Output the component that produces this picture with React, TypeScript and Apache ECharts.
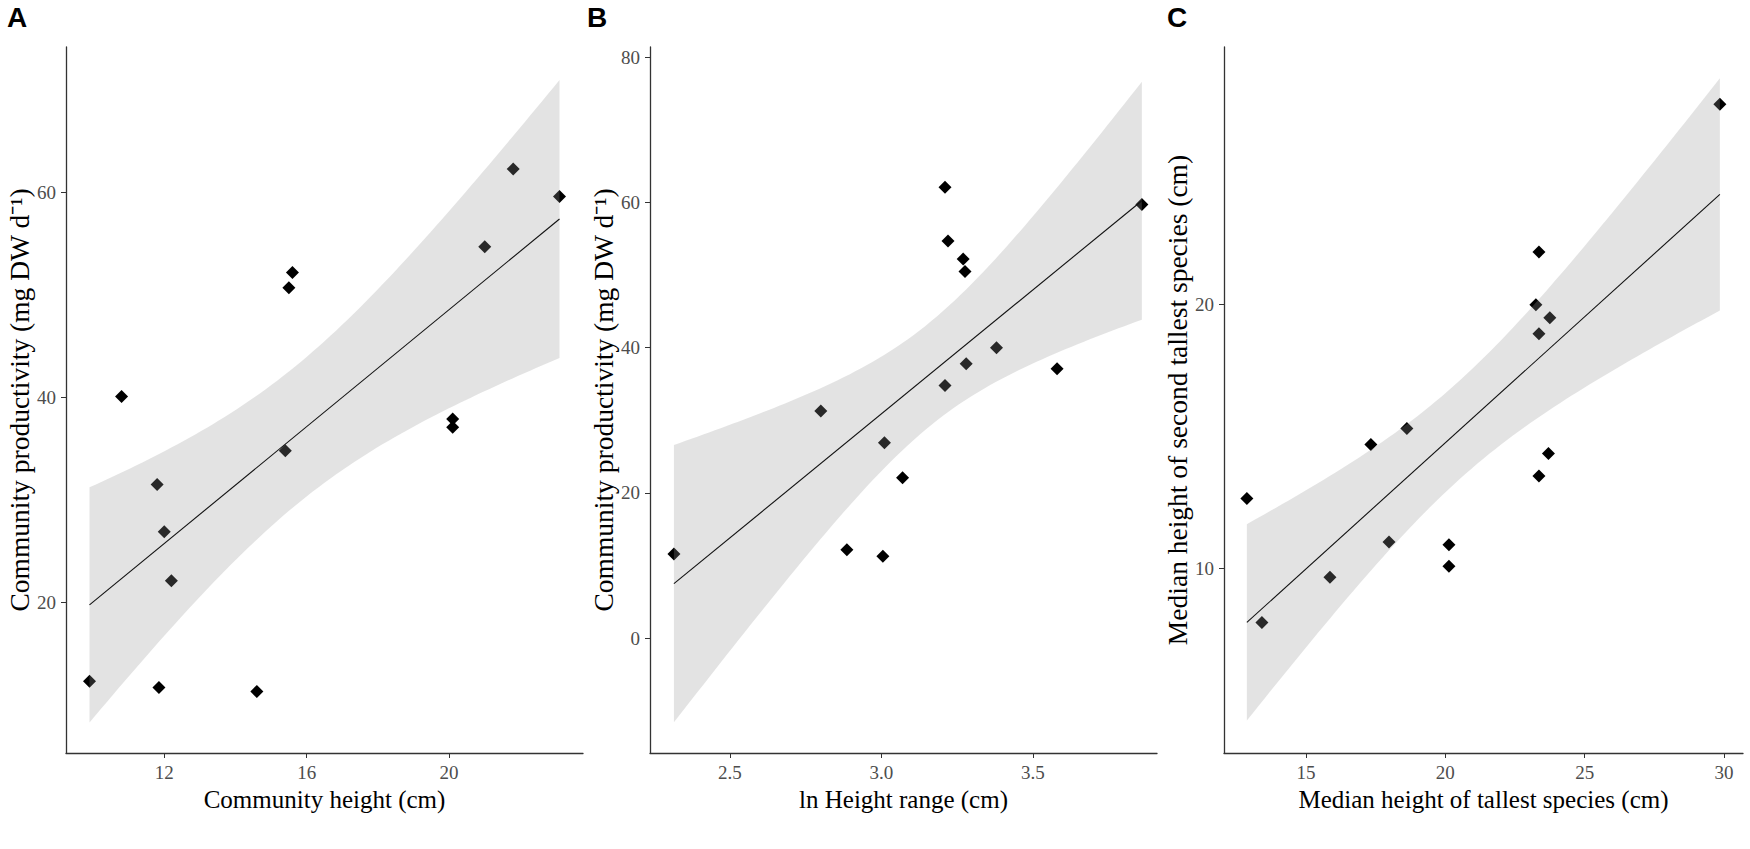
import React, { useEffect, useRef } from "react";
import * as echarts from "echarts";

// ---- Data ----
// Panel A: community height vs productivity
const heightA = [10.8, 15.5, 15.6, 21.0, 21.8, 23.1, 20.1, 20.1, 15.4, 11.8, 12.0, 12.2, 9.9, 11.85, 14.6];
const prodA = [40.1, 50.7, 52.2, 54.7, 62.3, 59.6, 37.9, 37.1, 34.8, 31.5, 26.9, 22.1, 12.3, 11.7, 11.3];
// Panel B: ln height range vs productivity
const rangeB = [3.21, 3.22, 3.27, 3.276, 3.38, 3.28, 3.21, 3.58, 2.8, 3.01, 3.07, 2.315, 2.886, 3.005, 3.86];
const prodB = [62.1, 54.7, 52.2, 50.5, 40.0, 37.8, 34.8, 37.1, 31.3, 26.9, 22.1, 11.6, 12.2, 11.3, 59.7];
// Panel C: tallest vs second tallest
const tallestC = [29.85, 23.36, 23.25, 23.75, 23.36, 17.33, 18.62, 23.7, 23.36, 12.88, 17.98, 20.13, 20.13, 15.86, 13.42];
const secondC = [27.6, 22.0, 20.0, 19.5, 18.9, 14.7, 15.3, 14.36, 13.5, 12.65, 11.0, 10.9, 10.08, 9.66, 7.95];

// Tick values
const ticksAx = [12, 16, 20];
const ticksAy = [20, 40, 60];
const ticksBx = [2.5, 3.0, 3.5];
const ticksBy = [0, 20, 40, 60, 80];
const ticksCx = [15, 20, 25, 30];
const ticksCy = [10, 20];

// Axis ranges (as displayed)
const rangeAx = [9.24, 23.76];
const rangeAy = [5.3, 74.2];
const rangeBx = [2.236, 3.91];
const rangeBy = [-15.8, 81.4];
const rangeCx = [12.06, 30.68];
const rangeCy = [3.0, 29.77];

const T975_DF13 = 2.1604;

function fit(xs: number[], ys: number[]) {
  const n = xs.length;
  const mx = xs.reduce((a, b) => a + b, 0) / n;
  const my = ys.reduce((a, b) => a + b, 0) / n;
  let sxx = 0, sxy = 0;
  for (let i = 0; i < n; i++) {
    sxx += (xs[i] - mx) ** 2;
    sxy += (xs[i] - mx) * (ys[i] - my);
  }
  const b = sxy / sxx;
  const a = my - b * mx;
  let sse = 0;
  for (let i = 0; i < n; i++) sse += (ys[i] - a - b * xs[i]) ** 2;
  const s = Math.sqrt(sse / (n - 2));
  const x0 = Math.min(...xs);
  const x1 = Math.max(...xs);
  const upper: number[][] = [];
  const lower: number[][] = [];
  const steps = 80;
  for (let k = 0; k <= steps; k++) {
    const x = x0 + ((x1 - x0) * k) / steps;
    const yh = a + b * x;
    const hw = T975_DF13 * s * Math.sqrt(1 / n + (x - mx) ** 2 / sxx);
    upper.push([x, yh + hw]);
    lower.push([x, yh - hw]);
  }
  return { a, b, x0, x1, upper, lower };
}

const SERIF = "'Liberation Serif', 'Times New Roman', serif";

export default function App() {
  const ref = useRef<HTMLDivElement>(null);
  useEffect(() => {
    document.body.style.margin = "0";
    if (!ref.current) return;
    const chart = echarts.init(ref.current, null, { renderer: "svg" });

    const panels = [
      { xs: heightA, ys: prodA, rx: rangeAx, ry: rangeAy, tx: ticksAx, ty: ticksAy, left: 66, width: 517,
        xname: "Community height (cm)", yname: "Community productivity (mg DW d\u207B\u00B9)", xfmt: (v: number) => String(v) },
      { xs: rangeB, ys: prodB, rx: rangeBx, ry: rangeBy, tx: ticksBx, ty: ticksBy, left: 650, width: 507,
        xname: "ln Height range (cm)", yname: "Community productivity (mg DW d\u207B\u00B9)", xfmt: (v: number) => v.toFixed(1) },
      { xs: tallestC, ys: secondC, rx: rangeCx, ry: rangeCy, tx: ticksCx, ty: ticksCy, left: 1224, width: 519,
        xname: "Median height of tallest species (cm)", yname: "Median height of second tallest species (cm)", xfmt: (v: number) => String(v) },
    ];

    const grid: any[] = [];
    const xAxis: any[] = [];
    const yAxis: any[] = [];
    const series: any[] = [];

    panels.forEach((p, i) => {
      grid.push({ left: p.left, top: 47, width: p.width, height: 706, containLabel: false });
      const axisLine = { show: true, onZero: false, lineStyle: { color: "#333", width: 1.3 } };
      const tick = { show: true, length: 5, lineStyle: { color: "#333", width: 1 } };
      xAxis.push({
        type: "value",
        gridIndex: i,
        min: p.rx[0],
        max: p.rx[1],
        name: p.xname,
        nameLocation: "middle",
        nameGap: 30,
        nameTextStyle: { fontFamily: SERIF, fontSize: 25, color: "#000" },
        axisLine,
        splitLine: { show: false },
        axisTick: { ...tick, customValues: p.tx },
        axisLabel: { customValues: p.tx, formatter: p.xfmt, fontFamily: SERIF, fontSize: 19, color: "#4d4d4d", margin: 10 },
      });
      yAxis.push({
        type: "value",
        gridIndex: i,
        min: p.ry[0],
        max: p.ry[1],
        name: p.yname,
        nameLocation: "middle",
        nameGap: 30,
        nameTextStyle: { fontFamily: SERIF, fontSize: 27.5, color: "#000" },
        axisLine,
        splitLine: { show: false },
        axisTick: { ...tick, customValues: p.ty },
        axisLabel: { customValues: p.ty, fontFamily: SERIF, fontSize: 19, color: "#4d4d4d", margin: 10 },
      });

      const f = fit(p.xs, p.ys);
      series.push({
        type: "scatter",
        xAxisIndex: i,
        yAxisIndex: i,
        data: p.xs.map((x, k) => [x, p.ys[k]]),
        symbol: "diamond",
        symbolSize: 13,
        itemStyle: { color: "#000", opacity: 1 },
        z: 2,
      });
      series.push({
        type: "custom",
        xAxisIndex: i,
        yAxisIndex: i,
        data: [[f.x0, f.a + f.b * f.x0]],
        z: 3,
        silent: true,
        clip: true,
        renderItem: (params: any, api: any) => {
          if (params.dataIndex !== 0) return null;
          const pts = f.upper.map((q) => api.coord(q)).concat(f.lower.slice().reverse().map((q) => api.coord(q)));
          return { type: "polygon", shape: { points: pts }, style: { fill: "rgba(153,153,153,0.27)", stroke: "none" } };
        },
      });
      series.push({
        type: "line",
        xAxisIndex: i,
        yAxisIndex: i,
        data: [[f.x0, f.a + f.b * f.x0], [f.x1, f.a + f.b * f.x1]],
        symbol: "none",
        lineStyle: { color: "#111", width: 1.1 },
        z: 4,
      });
    });

    chart.setOption({
      animation: false,
      backgroundColor: "#fff",
      grid,
      xAxis,
      yAxis,
      series,
      graphic: [
        { type: "text", left: 7, top: 3, style: { text: "A", font: "bold 28px 'Liberation Sans', Arial, sans-serif", fill: "#000" } },
        { type: "text", left: 587, top: 3, style: { text: "B", font: "bold 28px 'Liberation Sans', Arial, sans-serif", fill: "#000" } },
        { type: "text", left: 1167, top: 3, style: { text: "C", font: "bold 28px 'Liberation Sans', Arial, sans-serif", fill: "#000" } },
      ],
    });
    return () => chart.dispose();
  }, []);
  return <div ref={ref} style={{ width: 1750, height: 849 }} />;
}
